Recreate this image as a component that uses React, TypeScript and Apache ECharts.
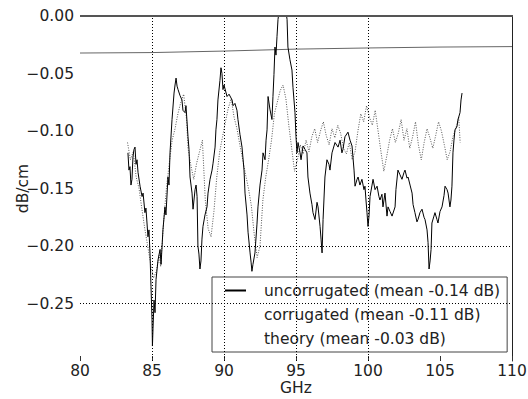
import React, { useEffect, useRef } from "react";
import * as echarts from "echarts";

// ---- data ----
const uncorrGHz = [83.33,83.40,83.47,83.54,83.61,83.68,83.75,83.82,83.89,83.96,84.03,84.17,84.31,84.38,84.51,84.58,84.72,84.79,84.86,84.93,85.00,85.03,85.07,85.14,85.21,85.28,85.42,85.56,85.63,85.76,85.90,85.97,86.11,86.18,86.25,86.39,86.53,86.60,86.67,86.74,86.81,86.94,87.08,87.15,87.29,87.36,87.50,87.57,87.64,87.78,87.85,87.99,88.06,88.13,88.19,88.26,88.33,88.40,88.47,88.54,88.68,88.82,88.89,89.03,89.17,89.24,89.38,89.44,89.51,89.58,89.72,89.79,89.86,89.93,90.00,90.21,90.35,90.56,90.63,90.76,90.90,90.97,91.11,91.25,91.39,91.46,91.60,91.67,91.81,91.88,91.94,92.01,92.15,92.29,92.36,92.50,92.64,92.71,92.85,92.92,92.99,93.06,93.19,93.33,93.40,93.47,93.54,93.61,93.68,93.75,93.89,94.03,94.17,94.31,94.38,94.44,94.58,94.72,94.79,94.93,95.00,95.07,95.14,95.28,95.35,95.49,95.63,95.76,95.83,95.97,96.11,96.18,96.32,96.46,96.53,96.67,96.74,96.81,96.88,97.01,97.15,97.29,97.36,97.50,97.71,97.92,98.06,98.19,98.26,98.40,98.61,98.75,98.89,99.03,99.10,99.24,99.31,99.44,99.58,99.72,99.79,99.86,99.93,100.00,100.07,100.14,100.28,100.35,100.49,100.63,100.76,100.83,100.97,101.04,101.18,101.32,101.39,101.53,101.67,101.88,101.94,102.08,102.22,102.36,102.50,102.57,102.71,102.78,102.92,103.06,103.13,103.26,103.40,103.47,103.61,103.75,103.89,103.96,104.10,104.17,104.24,104.31,104.38,104.44,104.58,104.65,104.79,104.86,105.00,105.14,105.28,105.35,105.49,105.56,105.69,105.76,105.83,105.90,105.97,106.04,106.18,106.25,106.39,106.46,106.53];
const uncorrDb = [-0.119,-0.134,-0.131,-0.147,-0.142,-0.122,-0.116,-0.114,-0.129,-0.125,-0.136,-0.148,-0.157,-0.154,-0.171,-0.167,-0.192,-0.186,-0.206,-0.235,-0.264,-0.287,-0.272,-0.247,-0.258,-0.229,-0.212,-0.203,-0.216,-0.186,-0.166,-0.173,-0.140,-0.147,-0.119,-0.090,-0.067,-0.060,-0.054,-0.061,-0.064,-0.069,-0.073,-0.082,-0.084,-0.078,-0.105,-0.116,-0.140,-0.154,-0.168,-0.151,-0.147,-0.157,-0.200,-0.207,-0.220,-0.213,-0.194,-0.183,-0.173,-0.166,-0.154,-0.142,-0.134,-0.128,-0.114,-0.099,-0.090,-0.073,-0.056,-0.045,-0.050,-0.064,-0.060,-0.070,-0.068,-0.073,-0.078,-0.076,-0.082,-0.090,-0.103,-0.114,-0.134,-0.154,-0.173,-0.188,-0.206,-0.214,-0.222,-0.216,-0.206,-0.181,-0.166,-0.147,-0.134,-0.119,-0.125,-0.108,-0.099,-0.070,-0.081,-0.090,-0.070,-0.051,-0.027,-0.034,-0.018,-0.003,0.010,0.014,0.011,0.003,-0.003,-0.027,-0.038,-0.047,-0.062,-0.084,-0.105,-0.119,-0.110,-0.119,-0.125,-0.113,-0.116,-0.119,-0.140,-0.154,-0.164,-0.171,-0.177,-0.162,-0.166,-0.183,-0.194,-0.206,-0.177,-0.140,-0.125,-0.129,-0.134,-0.119,-0.110,-0.114,-0.108,-0.119,-0.116,-0.105,-0.101,-0.108,-0.113,-0.134,-0.148,-0.142,-0.140,-0.147,-0.142,-0.151,-0.148,-0.160,-0.171,-0.183,-0.174,-0.157,-0.147,-0.142,-0.151,-0.148,-0.157,-0.160,-0.155,-0.166,-0.154,-0.174,-0.166,-0.170,-0.174,-0.166,-0.151,-0.134,-0.138,-0.142,-0.136,-0.134,-0.141,-0.140,-0.147,-0.154,-0.164,-0.171,-0.179,-0.177,-0.171,-0.168,-0.175,-0.177,-0.186,-0.197,-0.220,-0.213,-0.203,-0.180,-0.174,-0.171,-0.177,-0.180,-0.170,-0.166,-0.156,-0.148,-0.151,-0.154,-0.166,-0.160,-0.148,-0.119,-0.108,-0.099,-0.096,-0.090,-0.084,-0.073,-0.067];

const corrGHz = [83.3,83.5,83.7,83.9,84.1,84.3,84.5,84.7,84.9,85.1,85.3,85.5,85.6,85.8,86.0,86.2,86.4,86.6,86.8,87.0,87.2,87.4,87.5,87.7,87.9,88.1,88.3,88.5,88.7,88.9,89.1,89.3,89.5,89.7,89.9,90.1,90.3,90.5,90.7,90.9,91.1,91.3,91.5,91.7,91.9,92.1,92.3,92.5,92.7,92.9,93.1,93.3,93.5,93.7,93.9,94.1,94.3,94.5,94.7,94.9,95.1,95.3,95.5,95.7,95.9,96.1,96.3,96.5,96.7,96.9,97.1,97.3,97.5,97.7,97.9,98.1,98.3,98.5,98.7,98.9,99.1,99.3,99.5,99.7,99.9,100.1,100.3,100.5,100.7,100.9,101.1,101.3,101.5,101.7,101.9,102.1,102.3,102.5,102.7,102.9,103.1,103.3,103.5,103.7,103.9,104.1,104.3,104.5,104.7,104.9,105.1,105.3,105.5,105.7,105.9,106.1,106.3,106.4];
const corrDb = [-0.110,-0.125,-0.118,-0.140,-0.150,-0.168,-0.185,-0.200,-0.215,-0.228,-0.222,-0.208,-0.218,-0.180,-0.150,-0.128,-0.108,-0.098,-0.085,-0.075,-0.068,-0.090,-0.115,-0.130,-0.142,-0.128,-0.118,-0.108,-0.160,-0.185,-0.192,-0.170,-0.140,-0.118,-0.105,-0.092,-0.080,-0.072,-0.088,-0.098,-0.112,-0.125,-0.138,-0.150,-0.165,-0.190,-0.210,-0.200,-0.160,-0.140,-0.125,-0.108,-0.085,-0.075,-0.065,-0.060,-0.072,-0.095,-0.115,-0.135,-0.125,-0.112,-0.120,-0.108,-0.118,-0.105,-0.098,-0.110,-0.100,-0.092,-0.104,-0.112,-0.098,-0.106,-0.095,-0.102,-0.115,-0.120,-0.110,-0.125,-0.118,-0.100,-0.085,-0.092,-0.078,-0.088,-0.095,-0.082,-0.100,-0.118,-0.135,-0.122,-0.108,-0.098,-0.110,-0.102,-0.090,-0.108,-0.098,-0.115,-0.105,-0.092,-0.112,-0.125,-0.110,-0.098,-0.106,-0.115,-0.104,-0.092,-0.100,-0.112,-0.125,-0.118,-0.105,-0.098,-0.088,-0.110];

const theoryGHz = [80, 85, 90, 95, 100, 105, 110];
const theoryDb = [-0.0322, -0.0318, -0.0305, -0.0288, -0.0278, -0.0270, -0.0266];

const seriesNames = [
  "uncorrugated (mean -0.14 dB)",
  "corrugated (mean -0.11 dB)",
  "theory (mean -0.03 dB)",
];
const gridX = [85, 90, 95, 100];
const gridY = [-0.2, -0.25];
const X_MIN = 80;
const X_MAX = 110;
const Y_MIN = -0.3;
const Y_MAX = 0;

const zip = (xs: number[], ys: number[]) => xs.map((x, i) => [x, ys[i]]);

const FONT = "DejaVu Sans";
const FS = 15.5;
const TXT = "#222";

export default function App() {
  const ref = useRef<HTMLDivElement>(null);
  useEffect(() => {
    if (!ref.current) return;
    const chart = echarts.init(ref.current, null, { renderer: "svg" });
    const dotted = { type: [1, 2] as any, color: "#000", width: 1 };
    chart.setOption({
      animation: false,
      backgroundColor: "#fff",
      grid: { left: 80, right: 16, top: 16, bottom: 38, outerBoundsMode: "none", containLabel: false },
      xAxis: {
        type: "value",
        min: X_MIN,
        max: X_MAX,
        interval: 5,
        name: "GHz",
        nameLocation: "middle",
        nameGap: 20,
        nameMoveOverlap: false,
        nameTextStyle: { fontFamily: FONT, fontSize: FS, color: TXT, lineHeight: 14 },
        axisLine: { show: false, onZero: false },
        axisTick: { show: true, inside: true, length: 5, lineStyle: { color: "#333" } },
        splitLine: { show: false },
        axisLabel: { fontFamily: FONT, fontSize: FS, color: TXT, margin: 3, lineHeight: 14 },
      },
      yAxis: [
        {
          type: "value",
          min: Y_MIN,
          max: Y_MAX,
          interval: 0.05,
          name: "dB/cm",
          nameLocation: "middle",
          nameGap: 49,
          nameMoveOverlap: false,
          nameTextStyle: { fontFamily: FONT, fontSize: FS, color: TXT },
          axisLine: { show: false, onZero: false },
          axisTick: { show: false },
          splitLine: { show: false },
          axisLabel: {
            fontFamily: FONT,
            fontSize: FS,
            color: TXT,
            margin: 6,
            formatter: (v: number) => {
              if (v < -0.29) return "";
              if (Math.abs(v) < 1e-9) return "0.00";
              return "\u2212" + Math.abs(v).toFixed(2);
            },
          },
        },
        {
          type: "value",
          position: "right",
          min: Y_MIN,
          max: Y_MAX,
          interval: 0.05,
          axisLine: { show: true, onZero: false, lineStyle: { color: "#222", width: 1 } },
          axisTick: { show: false },
          axisLabel: { show: false },
          splitLine: { show: false },
        },
      ],
      legend: {
        orient: "vertical",
        left: 212,
        top: 277,
        padding: [5, 7, 5, 12],
        itemWidth: 21,
        itemHeight: 14,
        itemGap: 7,
        borderColor: "#444",
        borderWidth: 1,
        borderRadius: 0,
        backgroundColor: "#fff",
        selectedMode: false,
        textStyle: {
          fontFamily: FONT,
          fontSize: FS,
          color: TXT,
          lineHeight: 17,
          padding: [0, 0, 0, 13],
        },
        data: [
          { name: seriesNames[0], itemStyle: { opacity: 0 } },
          { name: seriesNames[1], lineStyle: { opacity: 0 }, itemStyle: { opacity: 0 } },
          { name: seriesNames[2], lineStyle: { opacity: 0 }, itemStyle: { opacity: 0 } },
        ],
      },
      series: [
        {
          name: seriesNames[2],
          type: "line",
          z: 1,
          data: zip(theoryGHz, theoryDb),
          symbol: "none",
          lineStyle: { color: "#666", width: 1 },
          itemStyle: { color: "#666" },
          markLine: {
            silent: true,
            symbol: ["none", "none"],
            label: { show: false },
            lineStyle: dotted,
            data: [
              ...gridX.map((x) => ({ xAxis: x })),
              ...gridY.map((y) => ({ yAxis: y })),
            ],
          },
        },
        {
          name: seriesNames[1],
          type: "line",
          z: 2,
          data: zip(corrGHz, corrDb),
          symbol: "none",
          lineStyle: { color: "#555", width: 1, type: [1, 1.5] as any },
          itemStyle: { color: "#555" },
        },
        {
          name: seriesNames[0],
          type: "line",
          z: 3,
          data: zip(uncorrGHz, uncorrDb),
          symbol: "none",
          lineStyle: { color: "#000", width: 1 },
          itemStyle: { color: "#000" },
        },
      ],
    });
    // top edge of the plot frame, placed through the axes' own scales
    let a = chart.convertToPixel({ xAxisIndex: 0, yAxisIndex: 0 } as any, [X_MIN, Y_MAX]) as any;
    let b = chart.convertToPixel({ xAxisIndex: 0, yAxisIndex: 0 } as any, [X_MAX, Y_MAX]) as any;
    if (!a || !b || isNaN(a[1])) {
      a = [80, 16];
      b = [512, 16];
    }
    const yTop = Math.round(a[1]);
    chart.setOption({
      graphic: {
        elements: [
          {
            type: "rect",
            id: "topSpine",
            silent: true,
            z: 100,
            zlevel: 1,
            shape: { x: a[0], y: yTop - 1, width: b[0] - a[0] + 1, height: 2 },
            style: { fill: "#555" },
          },
        ],
      },
    });
    return () => chart.dispose();
  }, []);
  return (
    <div
      ref={ref}
      style={{ position: "fixed", left: 0, top: 0, width: 528, height: 399 }}
    />
  );
}
